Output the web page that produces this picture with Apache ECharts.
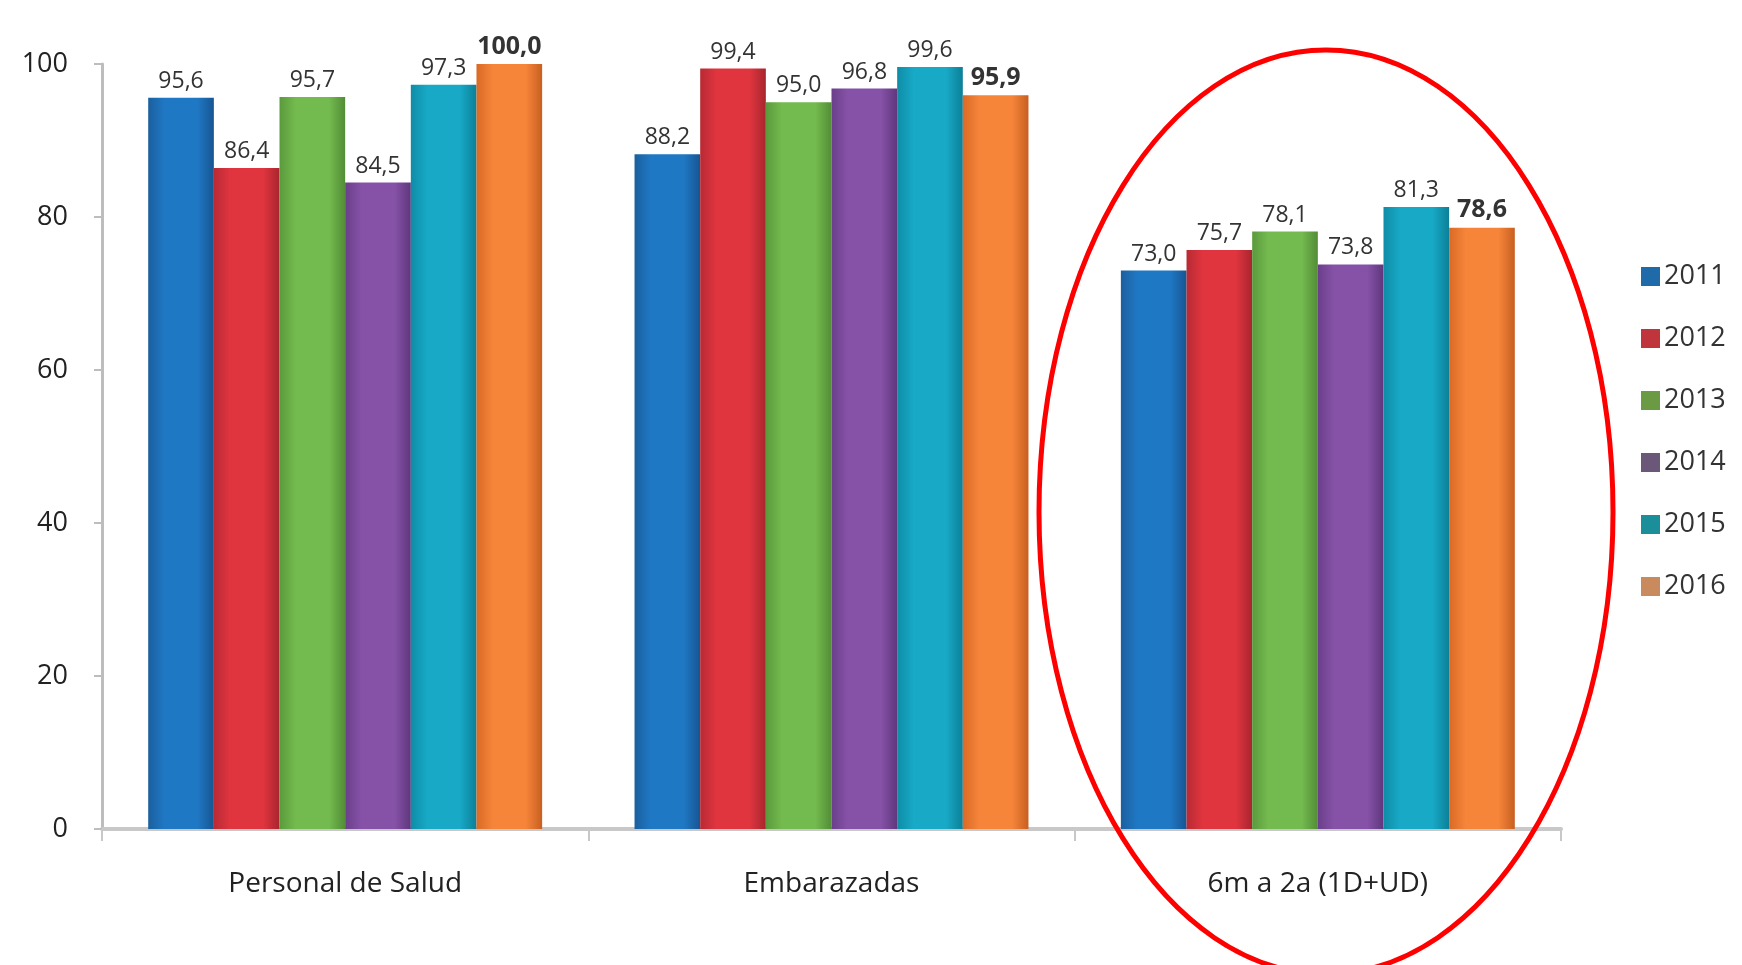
<!DOCTYPE html>
<html>
<head>
<meta charset="utf-8">
<script src="https://cdn.jsdelivr.net/npm/echarts@6/dist/echarts.min.js"></script>
<style>
html,body{margin:0;padding:0;background:#fff;}
#chart{width:1742px;height:965px;}
</style>
</head>
<body>
<div id="chart"></div>
<script>
const categories = ['Personal de Salud', 'Embarazadas', '6m a 2a (1D+UD)'];
const years = ['2011', '2012', '2013', '2014', '2015', '2016'];
const v2011 = [95.6, 88.2, 73.0];
const v2012 = [86.4, 99.4, 75.7];
const v2013 = [95.7, 95.0, 78.1];
const v2014 = [84.5, 96.8, 73.8];
const v2015 = [97.3, 99.6, 81.3];
const v2016 = [100.0, 95.9, 78.6];
const yTicks = [0, 20, 40, 60, 80, 100];

const seriesValues = [v2011, v2012, v2013, v2014, v2015, v2016];
const colors = [
  ['#1b5f9e', '#1f78c4', '#175592'],
  ['#b82a34', '#e0353f', '#a8252e'],
  ['#5a9a3c', '#74bb4f', '#528d36'],
  ['#6a3f8a', '#8652a8', '#5f377d'],
  ['#0f8ca6', '#17a9c6', '#0d7f98'],
  ['#d96a25', '#f6853a', '#c85f20']
];
const legendColors = ['#1f6aa8', '#c0353c', '#6b9a45', '#6b5878', '#1a8f9a', '#c98a5e'];

const fmt = v => v.toFixed(1).replace('.', ',');
const FONT = 'Open Sans, Liberation Sans, Arial, sans-serif';

const chart = echarts.init(document.getElementById('chart'));
const series = years.map((y, i) => ({
  name: y,
  type: 'bar',
  data: seriesValues[i],
  barGap: '0%',
  barCategoryGap: '19%',
  itemStyle: {
    color: new echarts.graphic.LinearGradient(0, 0, 1, 0, [
      {offset: 0, color: colors[i][0]},
      {offset: 0.25, color: colors[i][1]},
      {offset: 0.75, color: colors[i][1]},
      {offset: 1, color: colors[i][2]}
    ])
  },
  label: {
    show: true,
    position: 'top',
    distance: 5,
    formatter: p => fmt(p.value),
    fontFamily: FONT,
    fontSize: i === 5 ? 25 : 23,
    fontWeight: i === 5 ? 'bold' : 'normal',
    color: '#333'
  }
}));

chart.setOption({
  animation: false,
  backgroundColor: '#fff',
  color: legendColors,
  grid: {left: 102, right: 181, top: 64, bottom: 136},
  legend: {
    orient: 'vertical',
    left: 1636,
    top: 258,
    itemWidth: 19,
    itemHeight: 19,
    itemGap: 35,
    icon: 'rect',
    textStyle: {fontSize: 27, lineHeight: 19, color: '#333', fontFamily: FONT, padding: [0, 0, 0, -1]},
    data: years.map((y, i) => ({name: y, itemStyle: {color: legendColors[i]}}))
  },
  xAxis: {
    type: 'category',
    data: categories,
    axisLine: {lineStyle: {color: '#c8c8c8', width: 4}},
    axisTick: {show: true, length: 12, lineStyle: {color: '#c8c8c8', width: 2}},
    axisLabel: {margin: 41, fontSize: 28, color: '#222', fontFamily: FONT}
  },
  yAxis: {
    type: 'value',
    min: yTicks[0],
    max: yTicks[yTicks.length - 1],
    interval: 20,
    axisLine: {show: true, lineStyle: {color: '#bdbdbd', width: 3}},
    axisTick: {show: true, length: 8, lineStyle: {color: '#bdbdbd', width: 2}},
    splitLine: {show: false},
    axisLabel: {margin: 34, fontSize: 27, color: '#222', fontFamily: FONT}
  },
  series: series,
  graphic: [{
    type: 'ellipse',
    shape: {cx: 1326, cy: 512, rx: 287, ry: 462},
    style: {fill: 'none', stroke: '#ff0000', lineWidth: 5},
    z: 100
  }]
});
</script>
</body>
</html>
